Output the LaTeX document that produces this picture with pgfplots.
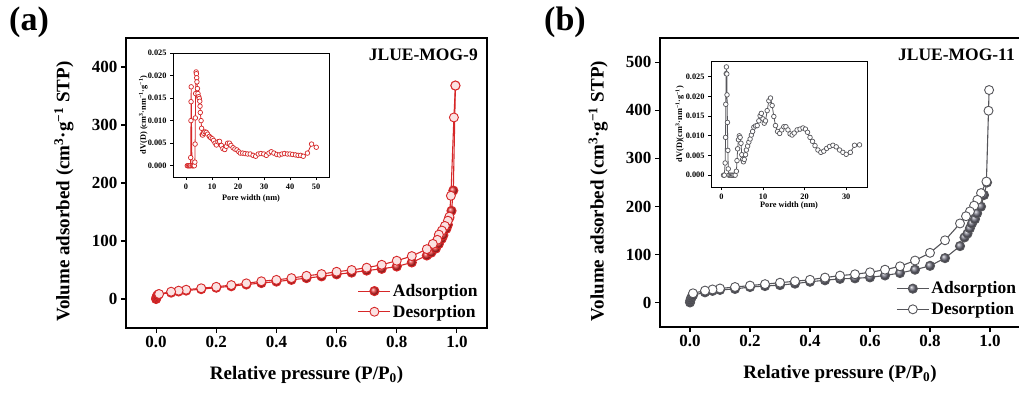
\documentclass[border=0pt]{standalone}
\usepackage{pgfplots}
\usepackage{pgfplotstable}
\pgfplotsset{compat=1.18}
\usepackage{fontspec}
\setmainfont{Liberation Serif}

\definecolor{ared}{RGB}{214,39,40}
\definecolor{aball}{RGB}{228,50,50}
\definecolor{apink}{RGB}{251,226,226}
\definecolor{bball}{RGB}{118,118,132}
\definecolor{bline}{RGB}{85,85,90}

\pgfplotstableread[row sep=\\]{
x y\\
0.000 0\\ 0.001 2\\ 0.002 4\\ 0.004 6\\ 0.008 8\\ 0.05 11\\ 0.075 13\\ 0.10 14.5\\
0.15 17\\ 0.20 19.5\\ 0.25 22\\ 0.30 25\\ 0.35 27.5\\ 0.40 30\\ 0.45 33\\ 0.50 36\\
0.55 39\\ 0.60 42.5\\ 0.65 45.5\\ 0.70 49\\ 0.75 52\\ 0.80 56\\ 0.85 63\\ 0.90 75\\
0.915 80\\ 0.93 87\\ 0.94 95\\ 0.95 104\\ 0.955 110\\ 0.965 121\\ 0.97 128\\ 0.975 140\\
0.982 152\\ 0.988 187\\ 0.995 368\\
}\adsA
\pgfplotstableread[row sep=\\]{
x y\\
0.995 368\\ 0.99 313\\ 0.98 178\\ 0.975 142\\ 0.97 135\\ 0.96 126\\ 0.95 118\\ 0.94 111\\
0.935 102\\ 0.92 95\\ 0.90 86\\ 0.85 74\\ 0.80 66\\ 0.75 59\\ 0.70 54\\ 0.65 50\\
0.60 47\\ 0.55 43\\ 0.50 40\\ 0.45 36\\ 0.40 33\\ 0.35 30.6\\ 0.30 27\\ 0.25 24\\
0.20 21\\ 0.15 18.5\\ 0.10 16\\ 0.075 14.4\\ 0.05 12.6\\ 0.01 8.6\\
}\desA
\pgfplotstableread[row sep=\\]{
x y\\
0.000 1\\ 0.001 5\\ 0.003 9\\ 0.006 13\\ 0.01 16\\ 0.05 22\\ 0.075 25\\ 0.10 27\\
0.15 29\\ 0.20 33\\ 0.25 35\\ 0.30 37\\ 0.35 40\\ 0.40 44\\ 0.45 47\\ 0.50 50\\
0.55 51\\ 0.60 53\\ 0.65 57\\ 0.70 62\\ 0.75 69\\ 0.80 77\\ 0.85 93\\ 0.90 118\\
0.915 136\\ 0.925 144\\ 0.933 155\\ 0.94 165\\ 0.95 174\\ 0.957 186\\ 0.97 200\\ 0.98 224\\
0.99 250\\
}\adsB
\pgfplotstableread[row sep=\\]{
x y\\
0.997 442\\ 0.995 399\\ 0.988 252\\ 0.97 228\\ 0.958 214\\ 0.947 202\\ 0.933 190\\ 0.92 180\\
0.90 165\\ 0.85 130\\ 0.80 104\\ 0.75 88\\ 0.70 76\\ 0.65 69\\ 0.60 63.6\\ 0.55 59.5\\
0.50 56.7\\ 0.45 52.6\\ 0.40 48\\ 0.35 45\\ 0.30 42\\ 0.25 39\\ 0.20 36\\ 0.15 33\\
0.10 30\\ 0.075 28\\ 0.05 25.6\\ 0.01 20\\
}\desB
\pgfplotstableread[row sep=\\]{
x y\\
0.5 0\\ 0.8 0\\ 1.1 0\\ 1.4 0\\ 1.7 0\\ 1.8 0.0018\\ 1.9 0.0100\\ 1.95 0.0142\\ 2.0 0.0175\\
2.3 0\\ 2.6 0\\ 2.9 0\\ 3.2 0\\ 3.4 0.0008\\ 3.5 0.0048\\ 3.6 0.0106\\ 3.7 0.0160\\
3.9 0.0208\\ 4.0 0.0204\\ 4.1 0.0195\\ 4.2 0.0186\\ 4.4 0.0171\\ 4.6 0.0160\\ 4.9 0.0153\\
5.1 0.0149\\ 5.3 0.0143\\ 5.4 0.0132\\ 5.5 0.0118\\ 5.8 0.0100\\ 6.0 0.0083\\ 6.2 0.0069\\
6.4 0.0068\\ 6.8 0.0072\\ 7.3 0.0075\\ 7.8 0.0074\\ 8.3 0.0070\\ 9.0 0.0065\\ 9.5 0.0062\\
10.1 0.0060\\ 10.6 0.0056\\ 11.2 0.0050\\ 11.7 0.0046\\ 12.3 0.0053\\ 12.9 0.0054\\
13.6 0.0045\\ 14.2 0.0038\\ 14.9 0.0036\\ 15.5 0.0043\\ 16.0 0.0050\\ 16.7 0.0050\\
17.3 0.0045\\ 18.1 0.0040\\ 18.8 0.0037\\ 19.6 0.0035\\ 20.3 0.0031\\ 20.9 0.0028\\
21.8 0.0028\\ 22.7 0.0027\\ 23.7 0.0026\\ 24.7 0.0026\\ 25.8 0.0023\\ 26.8 0.0021\\
27.8 0.0026\\ 28.8 0.0027\\ 29.9 0.0026\\ 30.9 0.0023\\ 31.9 0.0028\\ 32.8 0.0031\\
33.8 0.0028\\ 34.9 0.0025\\ 35.9 0.0024\\ 36.9 0.0026\\ 37.9 0.0027\\ 39.0 0.0026\\
40.0 0.0026\\ 41.0 0.0025\\ 42.1 0.0024\\ 43.1 0.0023\\ 44.1 0.0023\\ 45.1 0.0021\\
46.7 0.0028\\ 48.3 0.0048\\ 50.1 0.0041\\
}\psdA
\pgfplotstableread[row sep=\\]{
x y\\
0.5 0\\ 0.7 0\\ 0.9 0.0031\\ 1.0 0.0096\\ 1.05 0.018\\ 1.15 0.0258\\ 1.2 0.0275\\
1.3 0.0257\\ 1.35 0.0204\\ 1.45 0.0134\\ 1.55 0.0063\\ 1.65 0.0016\\ 1.8 0\\ 2.1 0\\
2.4 0\\ 2.7 0\\ 3.0 0\\ 3.3 0\\ 3.6 0.0010\\ 3.75 0.0037\\ 3.9 0.0067\\ 4.1 0.0090\\
4.3 0.0100\\ 4.5 0.0096\\ 4.7 0.0081\\ 4.9 0.0052\\ 5.1 0.0040\\ 5.3 0.0034\\ 5.5 0.0040\\
5.8 0.0052\\ 6.0 0.0064\\ 6.3 0.0074\\ 6.6 0.0084\\ 6.9 0.0092\\ 7.2 0.0102\\ 7.5 0.0111\\
7.8 0.0122\\ 8.2 0.0125\\ 8.6 0.0126\\ 9.0 0.0138\\ 9.3 0.0151\\ 9.6 0.0157\\ 10.0 0.0143\\
10.3 0.0132\\ 10.6 0.0138\\ 11.0 0.0164\\ 11.4 0.0189\\ 11.8 0.0196\\ 12.2 0.0177\\
12.6 0.0149\\ 13.0 0.0126\\ 13.5 0.0111\\ 14.0 0.0106\\ 14.5 0.0115\\ 15.0 0.0123\\
15.5 0.0123\\ 16.0 0.0115\\ 16.5 0.0105\\ 17.0 0.0102\\ 17.5 0.0107\\ 18.2 0.0115\\
18.9 0.0117\\ 19.6 0.0120\\ 20.2 0.0117\\ 20.7 0.0109\\ 21.3 0.0096\\ 21.9 0.0086\\
22.5 0.0075\\ 23.2 0.0064\\ 23.9 0.0058\\ 24.6 0.0061\\ 25.3 0.0068\\ 26.0 0.0073\\
26.8 0.0076\\ 27.6 0.0072\\ 28.4 0.0064\\ 29.2 0.0058\\ 30.0 0.0053\\ 31.0 0.0058\\
32.0 0.0076\\ 33.2 0.0077\\
}\psdB

\pgfplotsset{
  mainax/.style={
    scale only axis, anchor=south west,
    xmin=-0.1, xmax=1.1, xtick={0,0.2,0.4,0.6,0.8,1.0},
    axis line style={line width=1.2pt},
    tick style={line width=1.1pt, black},
    tick align=outside, major tick length=5pt, tick pos=left,
    /pgf/number format/assume math mode=true,
    tick label style={font=\fontsize{17}{17}\selectfont\bfseries},
    xticklabel style={/pgf/number format/.cd, fixed, fixed zerofill, precision=1},
    label style={font=\fontsize{19}{19}\selectfont\bfseries},
    xlabel={Relative pressure (P/P\textsubscript{0})},
    ylabel={Volume adsorbed (cm\textsuperscript{3}·g\textsuperscript{\char"2212 1} STP)},
    xlabel style={at={(axis description cs:0.5,-0.162)}, anchor=center},
    ylabel style={at={(axis description cs:-0.172,0.47)}, anchor=center, rotate=0},
    legend style={draw=none, fill=none, font=\fontsize{17.5}{17.5}\selectfont\bfseries,
      row sep=3pt, inner sep=0pt},
    legend cell align=left,
    legend image code/.code={\draw[mark repeat=2,mark phase=2,##1] plot coordinates {(0pt,0pt) (16pt,0pt) (32pt,0pt)};},
  },
  insetax/.style={
    scale only axis, anchor=south west, axis background/.style={fill=white},
    axis line style={line width=0.9pt},
    tick style={line width=0.8pt, black},
    tick align=outside, major tick length=3pt, tick pos=left,
    /pgf/number format/assume math mode=true,
    tick label style={font=\fontsize{8.3}{8.3}\selectfont\bfseries},
    yticklabel style={/pgf/number format/.cd, fixed, fixed zerofill, precision=3},
    scaled y ticks=false,
    ytick={0,0.005,0.010,0.015,0.020,0.025},
    label style={font=\fontsize{8.3}{8.3}\selectfont\bfseries},
    xlabel={Pore width (nm)},
    ylabel style={anchor=center},
    xlabel style={anchor=center},
  },
}

\begin{document}
\begin{tikzpicture}
\useasboundingbox (0,0) rectangle (1019pt,394pt);

% ---------- panel (a) ----------
\begin{axis}[mainax, at={(126pt,66pt)}, width=361pt, height=290pt,
  ymin=-50, ymax=450, ytick={0,100,200,300,400},
  legend style={at={(axis description cs:0.98,0.025)}, anchor=south east}]
\addplot[ared, line width=1.1pt, mark=ball, mark size=4.5pt, mark options={ball color=aball}] table[x=x,y=y]{\adsA};
\addlegendentry{Adsorption}
\addplot[ared, line width=1.1pt, mark=*, mark size=4.5pt, mark options={fill=apink, draw=ared, line width=0.9pt, solid}] table[x=x,y=y]{\desA};
\addlegendentry{Desorption}
\node[anchor=east, inner sep=0pt, font=\fontsize{17.5}{17.5}\selectfont\bfseries] at (rel axis cs:0.975,0.941) {JLUE-MOG-9};
\end{axis}

\begin{axis}[insetax, at={(173pt,217pt)}, width=156pt, height=124pt,
  xmin=-5, xmax=55, xtick={0,10,20,30,40,50},
  ymin=-0.0025, ymax=0.025,
  ylabel={dV(D) (cm\textsuperscript{3}·nm\textsuperscript{\char"2212 1}·g\textsuperscript{\char"2212 1})},
  xlabel style={at={(axis description cs:0.5,-0.17)}},
  ylabel style={at={(axis description cs:-0.19,0.5)}}]
\addplot[ared, line width=0.8pt, mark=*, mark size=2.3pt, mark options={fill=white, draw=ared, line width=0.7pt}] table[x=x,y=y]{\psdA};
\end{axis}

% ---------- panel (b) ----------
\begin{axis}[mainax, at={(660pt,67pt)}, width=360pt, height=289pt,
  ymin=-50, ymax=550, ytick={0,100,200,300,400,500},
  legend style={at={(axis description cs:0.995,0.03)}, anchor=south east}]
\addplot[bline, line width=1.1pt, mark=ball, mark size=4.5pt, mark options={ball color=bball}] table[x=x,y=y]{\adsB};
\addlegendentry{Adsorption}
\addplot[bline, line width=1.1pt, mark=*, mark size=4.5pt, mark options={fill=white, draw=bline, line width=0.9pt, solid}] table[x=x,y=y]{\desB};
\addlegendentry{Desorption}
\node[anchor=east, inner sep=0pt, font=\fontsize{17.5}{17.5}\selectfont\bfseries] at (rel axis cs:0.986,0.941) {JLUE-MOG-11};
\end{axis}

\begin{axis}[insetax, at={(711pt,207pt)}, width=156pt, height=126pt,
  xmin=-2.5, xmax=35, xtick={0,10,20,30},
  ymin=-0.003, ymax=0.029,
  ylabel={dV(D)(cm\textsuperscript{3}·nm\textsuperscript{\char"2212 1}·g\textsuperscript{\char"2212 1})},
  xlabel style={at={(axis description cs:0.5,-0.145)}},
  ylabel style={at={(axis description cs:-0.2,0.5)}}]
\addplot[bline, line width=0.8pt, mark=*, mark size=2.3pt, mark options={fill=white, draw=bline, line width=0.7pt}] table[x=x,y=y]{\psdB};
\end{axis}

\node[anchor=west, inner sep=0pt, font=\fontsize{34}{34}\selectfont\bfseries] at (9pt,372pt) {(a)};
\node[anchor=west, inner sep=0pt, font=\fontsize{34}{34}\selectfont\bfseries] at (544pt,372pt) {(b)};
\end{tikzpicture}
\end{document}
